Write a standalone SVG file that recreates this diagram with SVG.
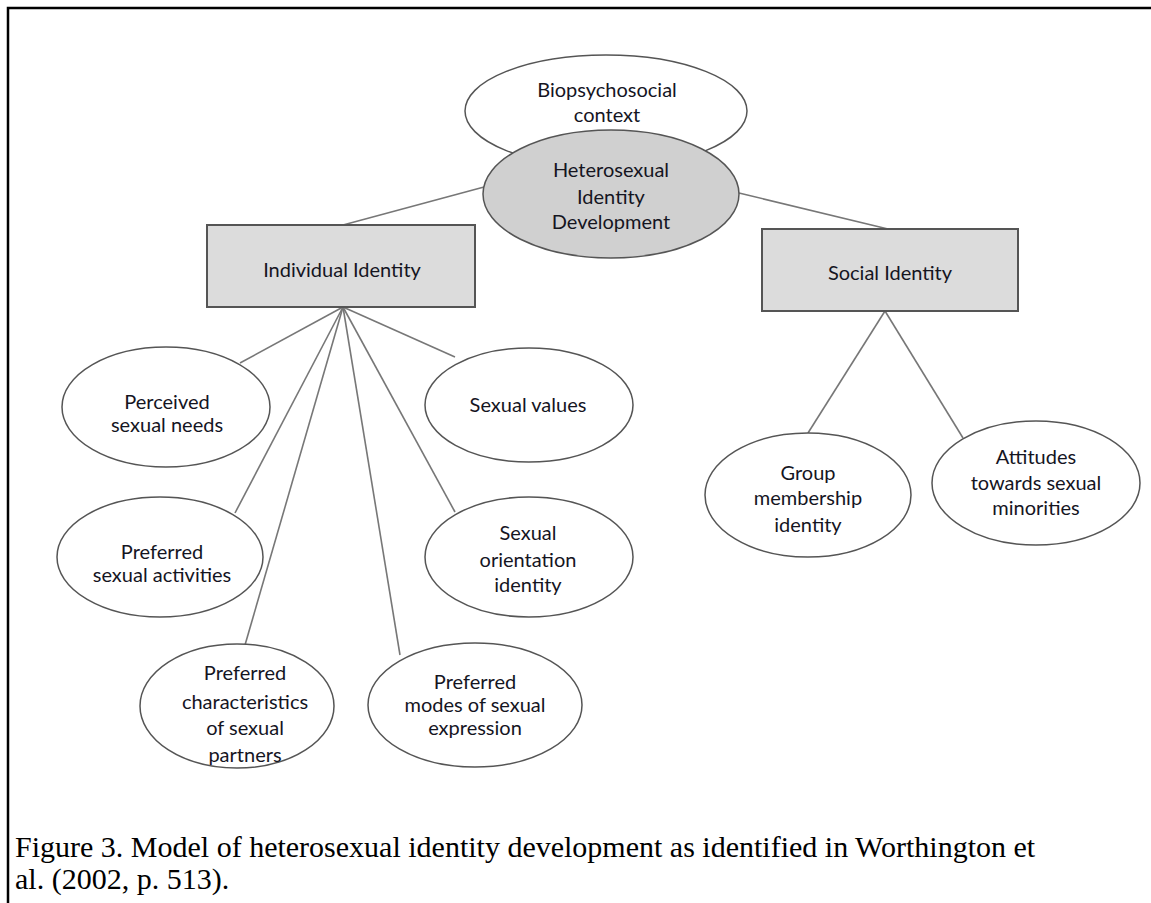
<svg xmlns="http://www.w3.org/2000/svg" width="1151" height="903" viewBox="0 0 1151 903">
  <style>
    .lbl { font-family: Lato, "Open Sans", "Liberation Sans", sans-serif; font-size: 20px; fill: #15151f; text-anchor: middle; }
    .ell { fill: #ffffff; stroke: #555555; stroke-width: 1.5; }
    .hub { fill: #d0d0d0; stroke: #555555; stroke-width: 1.5; }
    .box { fill: #dcdcdc; stroke: #555555; stroke-width: 2; }
    .edge { stroke: #777777; stroke-width: 1.6; fill: none; }
    .cap { font-family: "Liberation Serif", "Times New Roman", serif; font-size: 30px; fill: #000000; }
  </style>

  <!-- frame -->
  <path d="M8 903 V8 H1151" fill="none" stroke="#000000" stroke-width="2.5"/>

  <!-- connectors -->
  <g id="connectors">
    <line class="edge" x1="484" y1="187" x2="343" y2="225"/>
    <line class="edge" x1="739" y1="193" x2="888" y2="229"/>
    <line class="edge" x1="343" y1="307" x2="240" y2="363"/>
    <line class="edge" x1="343" y1="307" x2="455" y2="357"/>
    <line class="edge" x1="343" y1="307" x2="235" y2="513"/>
    <line class="edge" x1="343" y1="307" x2="455" y2="512"/>
    <line class="edge" x1="343" y1="307" x2="245" y2="645"/>
    <line class="edge" x1="343" y1="307" x2="400" y2="655"/>
    <line class="edge" x1="885" y1="311" x2="808" y2="433"/>
    <line class="edge" x1="885" y1="311" x2="963" y2="438"/>
  </g>

  <g id="biopsychosocial">
    <ellipse class="ell" cx="606" cy="111" rx="141" ry="56"/>
    <text class="lbl" x="607" y="97">Biopsychosocial</text>
    <text class="lbl" x="607" y="122">context</text>
  </g>

  <g id="heterosexual">
    <ellipse class="hub" cx="611" cy="194" rx="128" ry="64"/>
    <text class="lbl" x="611" y="177">Heterosexual</text>
    <text class="lbl" x="611" y="204">Identity</text>
    <text class="lbl" x="611" y="229">Development</text>
  </g>

  <g id="individual">
    <rect class="box" x="207" y="225" width="268" height="82"/>
    <text class="lbl" x="342" y="277">Individual Identity</text>
  </g>

  <g id="social">
    <rect class="box" x="762" y="229" width="256" height="82"/>
    <text class="lbl" x="890" y="280">Social Identity</text>
  </g>

  <g id="perceived-needs">
    <ellipse class="ell" cx="166" cy="407" rx="104" ry="60"/>
    <text class="lbl" x="167" y="409">Perceived</text>
    <text class="lbl" x="167" y="432">sexual needs</text>
  </g>

  <g id="sexual-values">
    <ellipse class="ell" cx="529" cy="405" rx="104" ry="57"/>
    <text class="lbl" x="528" y="412">Sexual values</text>
  </g>

  <g id="sexual-activities">
    <ellipse class="ell" cx="160" cy="557" rx="103" ry="60"/>
    <text class="lbl" x="162" y="559">Preferred</text>
    <text class="lbl" x="162" y="582">sexual activities</text>
  </g>

  <g id="orientation-identity">
    <ellipse class="ell" cx="529" cy="557" rx="104" ry="60"/>
    <text class="lbl" x="528" y="540">Sexual</text>
    <text class="lbl" x="528" y="567">orientation</text>
    <text class="lbl" x="528" y="592">identity</text>
  </g>

  <g id="partner-characteristics">
    <ellipse class="ell" cx="237" cy="706" rx="97" ry="62"/>
    <text class="lbl" x="245" y="680">Preferred</text>
    <text class="lbl" x="245" y="709">characteristics</text>
    <text class="lbl" x="245" y="735">of sexual</text>
    <text class="lbl" x="245" y="762">partners</text>
  </g>

  <g id="modes-expression">
    <ellipse class="ell" cx="475" cy="705" rx="107" ry="62"/>
    <text class="lbl" x="475" y="689">Preferred</text>
    <text class="lbl" x="475" y="712">modes of sexual</text>
    <text class="lbl" x="475" y="735">expression</text>
  </g>

  <g id="group-membership">
    <ellipse class="ell" cx="808" cy="495" rx="103" ry="62"/>
    <text class="lbl" x="808" y="480">Group</text>
    <text class="lbl" x="808" y="505">membership</text>
    <text class="lbl" x="808" y="532">identity</text>
  </g>

  <g id="attitudes">
    <ellipse class="ell" cx="1036" cy="483" rx="104" ry="62"/>
    <text class="lbl" x="1036" y="464">Attitudes</text>
    <text class="lbl" x="1036" y="490">towards sexual</text>
    <text class="lbl" x="1036" y="515">minorities</text>
  </g>

  <!-- caption -->
  <text class="cap" x="15" y="857">Figure 3. Model of heterosexual identity development as identified in Worthington et</text>
  <text class="cap" x="15" y="889">al. (2002, p. 513).</text>
</svg>
